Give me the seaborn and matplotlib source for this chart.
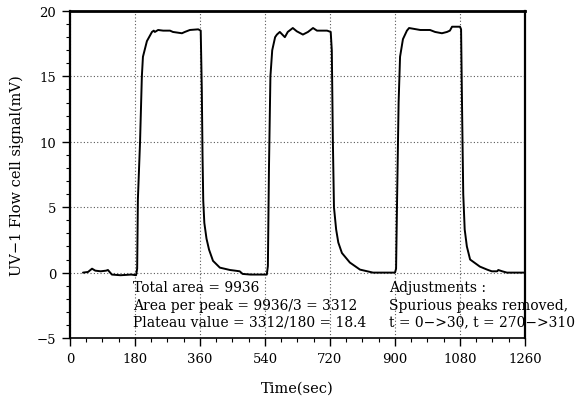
import numpy as np
import pandas as pd
import matplotlib
matplotlib.use("Agg")
import matplotlib.pyplot as plt
import seaborn as sns
from matplotlib.ticker import MultipleLocator

# --- data (time in sec, signal in mV) ---
time_sec = [36, 50, 61, 70, 85, 100, 105, 116, 140, 170, 183, 186, 188, 194, 199, 202,
            213, 227, 232, 235, 244, 258, 277, 285, 310, 318, 332, 355, 362,
            365, 367, 369, 372, 378, 385, 396, 415, 443, 457, 470, 478, 500, 520, 545,
            548, 551, 555, 560, 568, 573, 581, 595, 603, 617, 628, 645, 659, 673, 684,
            712, 722, 725, 728, 731, 737, 743, 753, 775, 803, 839, 870, 900,
            903, 906, 910, 914, 922, 933, 939, 970, 997, 1011, 1030, 1044, 1052, 1058,
            1080, 1083, 1086, 1089, 1093, 1099, 1108, 1135, 1155, 1168, 1183, 1186,
            1197, 1210, 1235, 1260]
signal_mv = [0.0, 0.05, 0.3, 0.15, 0.1, 0.15, 0.2, -0.15, -0.2, -0.15, -0.2, 0.3, 5.6, 10.0, 15.0, 16.5,
             17.7, 18.4, 18.5, 18.4, 18.55, 18.5, 18.5, 18.4, 18.3, 18.4, 18.55, 18.6, 18.5,
             14.0, 9.0, 5.5, 3.8, 2.6, 1.76, 0.9, 0.38, 0.2, 0.15, 0.1, -0.1, -0.15, -0.15, -0.15,
             0.5, 8.0, 15.0, 17.0, 18.0, 18.2, 18.4, 18.0, 18.4, 18.7, 18.45, 18.2, 18.4, 18.7, 18.5,
             18.5, 18.4, 17.0, 10.0, 5.0, 3.3, 2.3, 1.5, 0.77, 0.23, 0.0, 0.0, 0.0,
             0.3, 6.0, 13.0, 16.5, 17.85, 18.5, 18.7, 18.55, 18.55, 18.4, 18.3, 18.4, 18.5, 18.8,
             18.8, 18.6, 12.0, 6.0, 3.3, 2.0, 1.0, 0.46, 0.23, 0.1, 0.1, 0.2,
             0.1, 0.0, 0.0, 0.0]

x_ticks = [0, 180, 360, 540, 720, 900, 1080, 1260]
y_ticks = [-5, 0, 5, 10, 15, 20]
y_tick_labels = ["−5", "0", "5", "10", "15", "20"]

notes_left = ["Total area = 9936",
              "Area per peak = 9936/3 = 3312",
              "Plateau value = 3312/180 = 18.4"]
notes_right = ["Adjustments :",
               "Spurious peaks removed,",
               "t = 0−>30, t = 270−>310"]

df = pd.DataFrame({"Time": time_sec, "Signal": signal_mv})

sns.set_style("ticks")
plt.rcParams["font.family"] = ["DejaVu Serif"]
plt.rcParams["text.color"] = "black"
plt.rcParams["axes.labelcolor"] = "black"

fig = plt.figure(figsize=(5.78, 4.02), dpi=100)
ax = fig.add_axes([0.1211, 0.1567, 0.7872, 0.8134])

sns.lineplot(data=df, x="Time", y="Signal", ax=ax, color="black", linewidth=1.4)

ax.set_xlim(0, 1260)
ax.set_ylim(-5, 20)
ax.set_xticks(x_ticks)
ax.set_yticks(y_ticks)
ax.set_yticklabels(y_tick_labels)
ax.xaxis.set_minor_locator(MultipleLocator(45))
ax.yaxis.set_minor_locator(MultipleLocator(1))
ax.tick_params(axis="both", which="major", direction="out", length=6, width=1.0,
               labelsize=9.5, colors="black", pad=4)
ax.tick_params(axis="both", which="minor", direction="out", length=3, width=0.8,
               colors="black")

ax.grid(True, which="major", color="0.35", linestyle=(0, (1, 2)), linewidth=0.8)

for side in ["left", "right", "top", "bottom"]:
    ax.spines[side].set_visible(True)
    ax.spines[side].set_color("black")
ax.spines["left"].set_linewidth(1.6)
ax.spines["right"].set_linewidth(1.6)
ax.spines["top"].set_linewidth(2.0)
ax.spines["bottom"].set_linewidth(1.2)

ax.set_xlabel("Time(sec)", fontsize=10.5, labelpad=11, color="black")
ax.set_ylabel("UV−1 Flow cell signal(mV)", fontsize=10.5, labelpad=9, color="black")

ys = [-1.07, -2.45, -3.75]
for txt, yv in zip(notes_left, ys):
    ax.text(174, yv, txt, fontsize=10, va="center", ha="left", color="black", clip_on=False)
for txt, yv in zip(notes_right, ys):
    ax.text(883, yv, txt, fontsize=10, va="center", ha="left", color="black", clip_on=False)

fig.savefig("out.png", dpi=100)
